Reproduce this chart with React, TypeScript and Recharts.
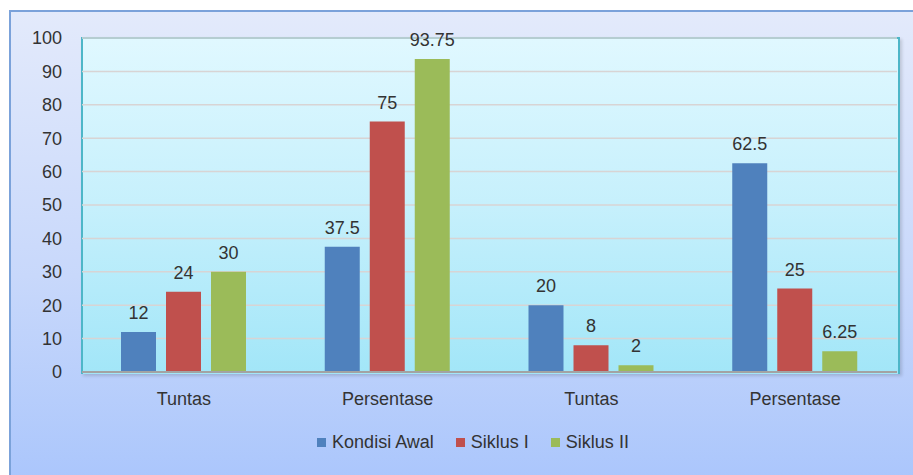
import { BarChart, Bar, XAxis, YAxis, CartesianGrid, LabelList } from 'recharts'

const categories = ['Tuntas', 'Persentase', 'Tuntas', 'Persentase']
const kondisiAwal = [12, 37.5, 20, 62.5]
const siklusI = [24, 75, 8, 25]
const siklusII = [30, 93.75, 2, 6.25]
const yTicks = [0, 10, 20, 30, 40, 50, 60, 70, 80, 90, 100]

const SERIES = [
  { key: 'kondisiAwal', name: 'Kondisi Awal', color: '#4f81bd' },
  { key: 'siklusI', name: 'Siklus I', color: '#c0504d' },
  { key: 'siklusII', name: 'Siklus II', color: '#9bbb59' }
]

const data = categories.map((name, i) => ({
  name,
  kondisiAwal: kondisiAwal[i],
  siklusI: siklusI[i],
  siklusII: siklusII[i]
}))

const FONT = '"Liberation Sans", Arial, sans-serif'
const TEXT = '#333333'

export default function App() {
  return (
    <div
      style={{
        position: 'absolute',
        left: 0,
        top: 0,
        width: 913,
        height: 475,
        overflow: 'hidden',
        background: '#fff',
        fontFamily: FONT
      }}
    >
      {/* outer chart frame */}
      <div
        style={{
          position: 'absolute',
          left: 9,
          top: 10,
          width: 920,
          height: 480,
          border: '2px solid #7ba2da',
          background: 'linear-gradient(to bottom, #e3eafb 0%, #c8d8fb 55%, #a9c5fc 100%)'
        }}
      />
      {/* plot area background */}
      <div
        style={{
          position: 'absolute',
          left: 81,
          top: 37,
          width: 815,
          height: 335,
          border: '2px solid #4db6c8',
          borderBottom: 'none',
          background: 'linear-gradient(to bottom, #e0f8ff 0%, #c6f0fc 50%, #a2e6f8 100%)',
          boxShadow: '2px 2px 3px rgba(0,0,0,0.15)'
        }}
      />
      <div style={{ position: 'absolute', left: 0, top: 0 }}>
        <BarChart
          width={913}
          height={475}
          data={data}
          margin={{ top: 38, right: 16, left: 0, bottom: 63 }}
          barSize={35}
          barGap={10}
        >
          <CartesianGrid vertical={false} stroke="#d8d4d4" strokeWidth={1.5} />
          <XAxis
            dataKey="name"
            height={40}
            axisLine={{ stroke: '#a3a3a3', strokeWidth: 2 }}
            tickLine={false}
            tickMargin={14}
            tick={{ fill: TEXT, fontSize: 18, fontFamily: FONT }}
          />
          <YAxis
            width={82}
            domain={[0, 100]}
            ticks={yTicks}
            axisLine={false}
            tickLine={false}
            tickSize={0}
            tickMargin={20}
            tick={{ fill: TEXT, fontSize: 18, fontFamily: FONT }}
          />
          {SERIES.map((s) => (
            <Bar key={s.key} dataKey={s.key} name={s.name} fill={s.color} isAnimationActive={false}>
              <LabelList
                dataKey={s.key}
                position="top"
                offset={13}
                fill={TEXT}
                fontSize={18}
                fontFamily={FONT}
              />
            </Bar>
          ))}
        </BarChart>
      </div>
      {/* legend */}
      <div
        style={{
          position: 'absolute',
          left: 0,
          top: 432,
          width: 913,
          paddingLeft: 33,
          boxSizing: 'border-box',
          display: 'flex',
          justifyContent: 'center',
          gap: 22,
          fontSize: 18,
          color: TEXT
        }}
      >
        {SERIES.map((s) => (
          <div key={s.key} style={{ display: 'flex', alignItems: 'center', gap: 6 }}>
            <div style={{ width: 9, height: 9, background: s.color }} />
            <span>{s.name}</span>
          </div>
        ))}
      </div>
    </div>
  )
}
